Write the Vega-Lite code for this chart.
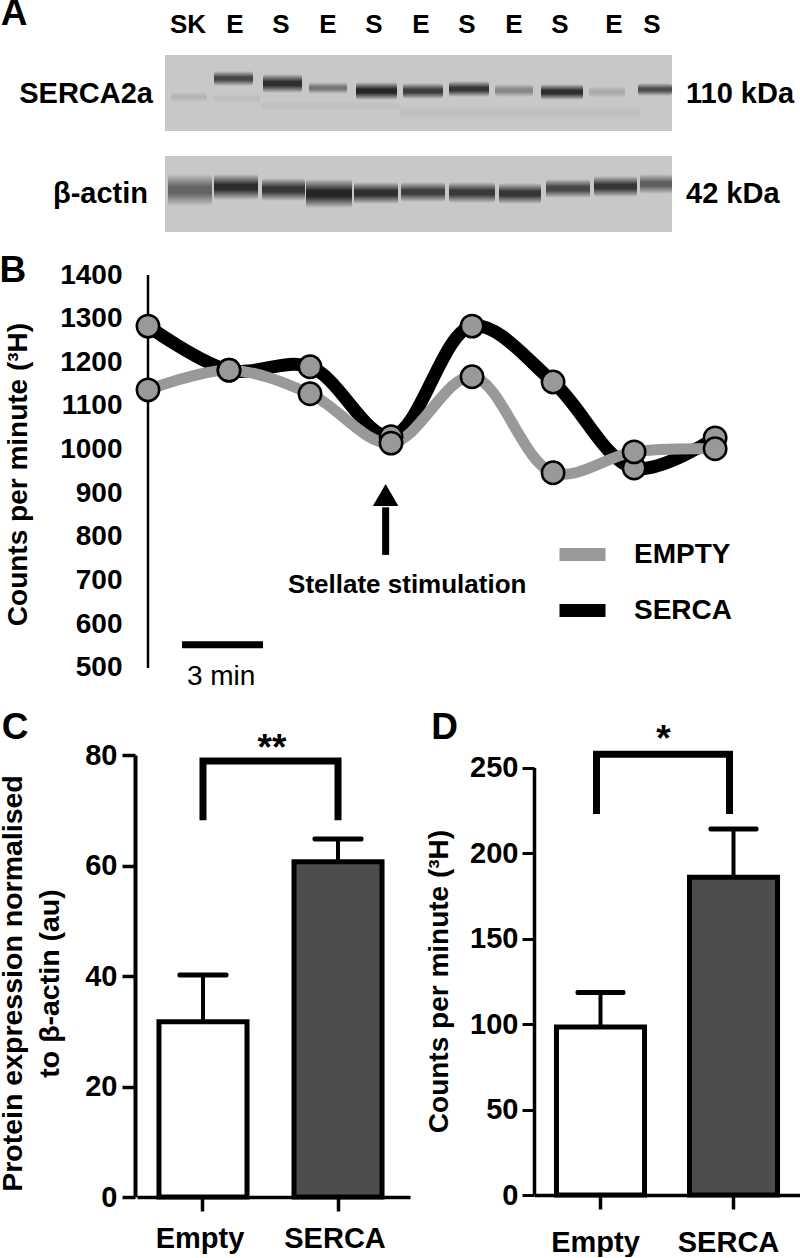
{
"$schema":"https://vega.github.io/schema/vega-lite/v6.json",
"background":"#ffffff",
"padding":{"left":-3,"top":-5,"right":0,"bottom":0},
"config":{"font":"Liberation Sans","view":{"stroke":null}},
"datasets":{
"gels":[{"protein":"SERCA2a","a":165,"b":672,"top":55,"bottom":131},{"protein":"β-actin","a":165,"b":672,"top":156,"bottom":232}],
"bands":[
{"a":171,"b":207,"top":92,"bottom":102,"intensity":0.12},
{"a":214,"b":253,"top":71,"bottom":86,"intensity":0.8},
{"a":263,"b":302,"top":74,"bottom":93,"intensity":0.95},
{"a":309,"b":347,"top":82,"bottom":94,"intensity":0.5},
{"a":356,"b":397,"top":82,"bottom":100,"intensity":1},
{"a":403,"b":443,"top":83,"bottom":99,"intensity":0.85},
{"a":449,"b":489,"top":81,"bottom":97,"intensity":0.9},
{"a":495,"b":533,"top":84,"bottom":97,"intensity":0.4},
{"a":541,"b":583,"top":84,"bottom":100,"intensity":0.95},
{"a":589,"b":625,"top":86,"bottom":98,"intensity":0.18},
{"a":638,"b":672,"top":83,"bottom":96,"intensity":0.75},
{"a":214,"b":260,"top":94,"bottom":103,"intensity":0.06},
{"a":262,"b":400,"top":101,"bottom":111,"intensity":0.05},
{"a":400,"b":640,"top":106,"bottom":120,"intensity":0.06},
{"a":168,"b":212,"top":174,"bottom":206,"intensity":0.62},
{"a":214,"b":258,"top":174,"bottom":200,"intensity":0.95},
{"a":262,"b":305,"top":178,"bottom":201,"intensity":0.9},
{"a":306,"b":352,"top":179,"bottom":208,"intensity":1},
{"a":354,"b":398,"top":182,"bottom":204,"intensity":0.95},
{"a":401,"b":445,"top":182,"bottom":202,"intensity":0.85},
{"a":449,"b":495,"top":182,"bottom":203,"intensity":0.88},
{"a":499,"b":541,"top":183,"bottom":204,"intensity":0.9},
{"a":546,"b":590,"top":179,"bottom":198,"intensity":0.8},
{"a":594,"b":637,"top":176,"bottom":197,"intensity":0.9},
{"a":640,"b":672,"top":174,"bottom":194,"intensity":0.65}],
"lanes":[{"lane":"SK","pos":188,"row":25},{"lane":"E","pos":235,"row":25},{"lane":"S","pos":281,"row":25},{"lane":"E","pos":328,"row":25},{"lane":"S","pos":374,"row":25},{"lane":"E","pos":421,"row":25},{"lane":"S","pos":467,"row":25},{"lane":"E","pos":514,"row":25},{"lane":"S","pos":560,"row":25},{"lane":"E","pos":614,"row":25},{"lane":"S","pos":652,"row":25}],
"proteins":[{"protein":"SERCA2a","row":94,"kda":"110 kDa","left":153,"right":686},{"protein":"β-actin","row":194,"kda":"42 kDa","left":148,"right":686}],
"cpm":[
{"series":"SERCA","min":0,"cpm":1283},{"series":"SERCA","min":3,"cpm":1182},{"series":"SERCA","min":6,"cpm":1190},{"series":"SERCA","min":9,"cpm":1030},{"series":"SERCA","min":12,"cpm":1283},{"series":"SERCA","min":15,"cpm":1155},{"series":"SERCA","min":18,"cpm":958},{"series":"SERCA","min":21,"cpm":1027},
{"series":"EMPTY","min":0,"cpm":1137},{"series":"EMPTY","min":3,"cpm":1182},{"series":"EMPTY","min":6,"cpm":1128},{"series":"EMPTY","min":9,"cpm":1015},{"series":"EMPTY","min":12,"cpm":1167},{"series":"EMPTY","min":15,"cpm":947},{"series":"EMPTY","min":18,"cpm":995},{"series":"EMPTY","min":21,"cpm":1002}],
"barsC":[{"group":"Empty","value":31.7,"upper":40.2},{"group":"SERCA","value":60.7,"upper":64.8}],
"bracketC":[{"group":"Empty","step":1,"value":68.2},{"group":"Empty","step":2,"value":78.9},{"group":"SERCA","step":3,"value":78.9},{"group":"SERCA","step":4,"value":68.2}],
"barsD":[{"group":"Empty","value":98.4,"upper":118.5},{"group":"SERCA","value":186,"upper":214.3}],
"bracketD":[{"group":"Empty","step":1,"value":223},{"group":"Empty","step":2,"value":258},{"group":"SERCA","step":3,"value":258},{"group":"SERCA","step":4,"value":223}]
},
"vconcat":[
{
"width":535,"height":177,
"encoding":{
"x":{"field":"a","type":"quantitative","scale":{"domain":[137,672],"nice":false,"zero":false},"axis":null},
"y":{"field":"top","type":"quantitative","scale":{"domain":[55,232],"nice":false,"zero":false,"reverse":true},"axis":null}
},
"layer":[
{"data":{"name":"gels"},"mark":{"type":"rect","fill":"#c8c8c8"},"encoding":{"x2":{"field":"b"},"y2":{"field":"bottom"}}},
{"data":{"name":"bands"},"mark":{"type":"rect","cornerRadius":3,"fill":{"gradient":"linear","x1":0,"y1":0,"x2":0,"y2":1,"stops":[{"offset":0,"color":"rgba(20,20,20,0)"},{"offset":0.4,"color":"rgba(20,20,20,0.9)"},{"offset":0.6,"color":"rgba(20,20,20,0.9)"},{"offset":1,"color":"rgba(20,20,20,0)"}]}},"encoding":{"x2":{"field":"b"},"y2":{"field":"bottom"},"opacity":{"field":"intensity","type":"quantitative","scale":{"domain":[0,1],"range":[0,1]},"legend":null}}},
{"data":{"values":[{"pos":14,"row":14,"label":"A"}]},"mark":{"type":"text","fontWeight":"bold","fontSize":37,"baseline":"middle","align":"center"},"encoding":{"x":{"field":"pos","type":"quantitative"},"y":{"field":"row","type":"quantitative"},"text":{"field":"label"}}},
{"data":{"name":"lanes"},"mark":{"type":"text","fontWeight":"bold","fontSize":26,"baseline":"middle","align":"center"},"encoding":{"x":{"field":"pos","type":"quantitative"},"y":{"field":"row","type":"quantitative"},"text":{"field":"lane"}}},
{"data":{"name":"proteins"},"mark":{"type":"text","fontWeight":"bold","fontSize":29,"baseline":"middle","align":"right"},"encoding":{"x":{"field":"left","type":"quantitative"},"y":{"field":"row","type":"quantitative"},"text":{"field":"protein"}}},
{"data":{"name":"proteins"},"mark":{"type":"text","fontWeight":"bold","fontSize":29,"baseline":"middle","align":"left"},"encoding":{"x":{"field":"right","type":"quantitative"},"y":{"field":"row","type":"quantitative"},"text":{"field":"kda"}}}
]
},
{
"width":600,"height":437,
"encoding":{
"x":{"field":"min","type":"quantitative","scale":{"domain":[-0.407,21.81],"nice":false,"zero":false},"axis":null},
"y":{"field":"cpm","type":"quantitative","scale":{"domain":[399.2,1400],"nice":false,"zero":false},"axis":{"title":"Counts per minute (³H)","titleFontSize":28,"titleFontWeight":"bold","titleColor":"#000","titlePadding":27,"titleY":199,"offset":-11,"values":[500,600,700,800,900,1000,1100,1200,1300,1400],"format":"d","ticks":false,"domain":false,"labelPadding":26,"labelFontSize":28,"labelFontWeight":"bold","labelColor":"#000","grid":false}}
},
"layer":[
{"data":{"values":[{"min":0,"cpm":500,"cpm2":1400}]},"mark":{"type":"rule","strokeWidth":2.5,"color":"#000"},"encoding":{"y2":{"field":"cpm2"}}},
{"data":{"name":"cpm"},"mark":{"type":"line","interpolate":"catmull-rom","strokeCap":"round"},"encoding":{
"color":{"field":"series","type":"nominal","scale":{"domain":["EMPTY","SERCA"],"range":["#999999","#000000"]},"legend":{"title":null,"orient":"none","legendX":416,"legendY":250,"symbolType":"stroke","symbolStrokeWidth":13,"symbolSize":2116,"labelFontSize":28,"labelFontWeight":"bold","labelColor":"#000","labelOffset":22,"rowPadding":-10}},
"strokeWidth":{"field":"series","type":"nominal","scale":{"domain":["EMPTY","SERCA"],"range":[11,13]},"legend":null}}},
{"data":{"name":"cpm"},"mark":{"type":"point","filled":true,"fill":"#999999","stroke":"#000000","strokeWidth":2.5,"size":500,"opacity":1}},
{"data":{"values":[{"min":8.8,"cpm":759,"cpm2":868}]},"mark":{"type":"rule","strokeWidth":7,"color":"#000"},"encoding":{"y2":{"field":"cpm2"}}},
{"data":{"values":[{"min":8.8,"cpm":896}]},"mark":{"type":"point","shape":"triangle-up","filled":true,"color":"#000","size":650,"opacity":1}},
{"data":{"values":[{"min":-5.0,"cpm":1409,"label":"B"}]},"mark":{"type":"text","fontWeight":"bold","fontSize":37,"baseline":"middle","align":"center"},"encoding":{"text":{"field":"label"}}},
{"data":{"values":[{"min":9.6,"cpm":690,"label":"Stellate stimulation"}]},"mark":{"type":"text","fontWeight":"bold","fontSize":26,"baseline":"middle","align":"center"},"encoding":{"text":{"field":"label"}}},
{"data":{"values":[{"min":1.26,"min2":4.26,"cpm":553}]},"mark":{"type":"rule","strokeWidth":7,"color":"#000"},"encoding":{"x2":{"field":"min2"}}},
{"data":{"values":[{"min":2.71,"cpm":479,"label":"3 min"}]},"mark":{"type":"text","fontSize":28,"baseline":"middle","align":"center"},"encoding":{"text":{"field":"label"}}}
]
},
{
"hconcat":[
{
"width":273,"height":442,
"encoding":{
"x":{"field":"group","type":"nominal","scale":{"domain":["Empty","SERCA"],"paddingInner":0.348,"paddingOuter":0.185,"align":0.44},"axis":{"title":null,"labelAngle":0,"labelFontSize":29,"labelFontWeight":"bold","labelColor":"#000","labelPadding":13,"labelOffset":-3,"tickSize":14,"tickWidth":3.5,"tickColor":"#000","domainColor":"#000","domainWidth":3.5}},
"y":{"field":"value","type":"quantitative","scale":{"domain":[0,80],"nice":false},"axis":{"title":["Protein expression normalised","to β-actin (au)"],"offset":2,"titleFontSize":28.5,"titleFontWeight":"bold","titleColor":"#000","titleLineHeight":37,"titleY":228,"titleX":-108,"values":[0,20,40,60,80],"tickSize":13,"tickWidth":3.5,"tickColor":"#000","domainColor":"#000","domainWidth":4,"labelPadding":5,"labelFontSize":29,"labelFontWeight":"bold","labelColor":"#000","grid":false}}
},
"layer":[
{"data":{"name":"barsC"},"mark":{"type":"rule","strokeWidth":4,"color":"#000"},"encoding":{"y2":{"field":"upper"}}},
{"data":{"name":"barsC"},"mark":{"type":"tick","orient":"horizontal","size":51,"thickness":5,"color":"#000","opacity":1,"cornerRadius":2},"encoding":{"y":{"field":"upper","type":"quantitative"}}},
{"data":{"name":"barsC"},"mark":{"type":"bar","stroke":"#000","strokeWidth":5},"encoding":{"fill":{"field":"group","type":"nominal","scale":{"domain":["Empty","SERCA"],"range":["#ffffff","#4d4d4d"]},"legend":null}}},
{"data":{"name":"bracketC"},"mark":{"type":"line","color":"#000","strokeWidth":7,"strokeJoin":"miter"},"encoding":{"order":{"field":"step","type":"quantitative"}}},
{"data":{"values":[{"group":"Empty","value":84.9,"label":"C"}]},"mark":{"type":"text","fontWeight":"bold","fontSize":37,"dx":-188,"baseline":"middle","align":"center"},"encoding":{"text":{"field":"label"}}},
{"data":{"values":[{"group":"Empty","value":81,"label":"**"}]},"mark":{"type":"text","fontWeight":"bold","fontSize":37,"dx":69,"baseline":"middle","align":"center"},"encoding":{"text":{"field":"label"}}}
]
},
{
"width":266,"height":440,
"encoding":{
"x":{"field":"group","type":"nominal","scale":{"domain":["Empty","SERCA"],"paddingInner":0.338,"paddingOuter":0.169},"axis":{"title":null,"labelAngle":0,"labelFontSize":29,"labelFontWeight":"bold","labelColor":"#000","labelPadding":19,"labelOffset":-5,"tickSize":14,"tickWidth":3.5,"tickColor":"#000","domainColor":"#000","domainWidth":3.5}},
"y":{"field":"value","type":"quantitative","scale":{"domain":[0,257.6],"nice":false},"axis":{"title":"Counts per minute (³H)","titleFontSize":28,"titleFontWeight":"bold","titleColor":"#000","titleY":226,"titleX":-81,"values":[0,50,100,150,200,250],"tickSize":12,"tickWidth":3,"tickColor":"#000","domain":false,"labelPadding":4,"labelFontSize":29,"labelFontWeight":"bold","labelColor":"#000","grid":false}}
},
"layer":[
{"data":{"values":[{"group":"Empty","lo":0,"hi":250}]},"mark":{"type":"rule","strokeWidth":3.5,"color":"#000","xOffset":-66},"encoding":{"y":{"field":"lo","type":"quantitative"},"y2":{"field":"hi"}}},
{"data":{"name":"barsD"},"mark":{"type":"rule","strokeWidth":4,"color":"#000"},"encoding":{"y2":{"field":"upper"}}},
{"data":{"name":"barsD"},"mark":{"type":"tick","orient":"horizontal","size":50,"thickness":5,"color":"#000","opacity":1,"cornerRadius":2},"encoding":{"y":{"field":"upper","type":"quantitative"}}},
{"data":{"name":"barsD"},"mark":{"type":"bar","stroke":"#000","strokeWidth":5},"encoding":{"fill":{"field":"group","type":"nominal","scale":{"domain":["Empty","SERCA"],"range":["#ffffff","#4d4d4d"]},"legend":null}}},
{"data":{"name":"bracketD"},"mark":{"type":"line","color":"#000","strokeWidth":7,"strokeJoin":"miter","xOffset":-4},"encoding":{"order":{"field":"step","type":"quantitative"}}},
{"data":{"values":[{"group":"Empty","value":273.4,"label":"D"}]},"mark":{"type":"text","fontWeight":"bold","fontSize":37,"dx":-156,"baseline":"middle","align":"center"},"encoding":{"text":{"field":"label"}}},
{"data":{"values":[{"group":"Empty","value":266.5,"label":"*"}]},"mark":{"type":"text","fontWeight":"bold","fontSize":37,"dx":63,"baseline":"middle","align":"center"},"encoding":{"text":{"field":"label"}}}
]
}
],
"spacing":124,
"bounds":"flush"
}
],
"spacing":43,
"bounds":"flush",
"resolve":{"scale":{"color":"independent"}}
}
